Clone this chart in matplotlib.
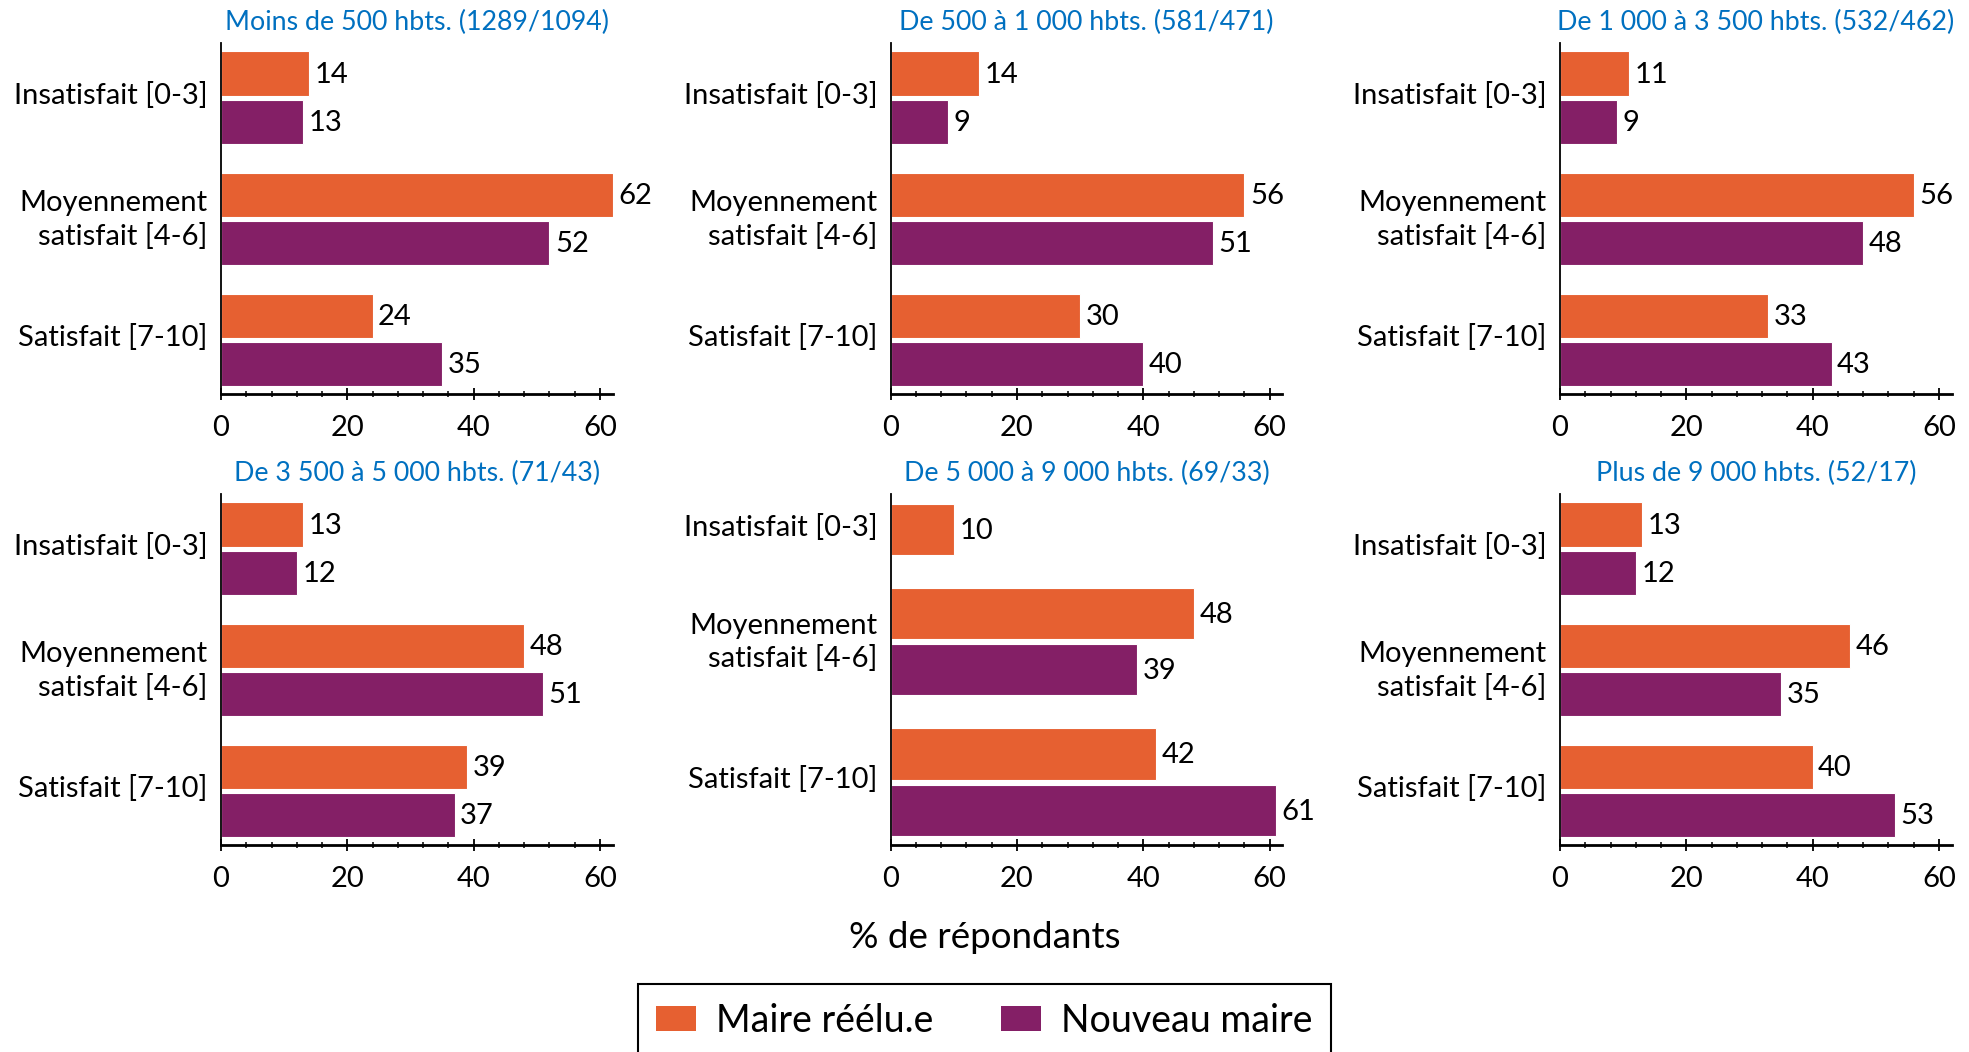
import matplotlib
matplotlib.use("agg")
import matplotlib.pyplot as plt
import matplotlib.transforms as mtransforms
from matplotlib.ticker import MultipleLocator
from matplotlib.patches import Patch

plt.rcParams['font.family'] = ['Lato', 'DejaVu Sans']

## Data
categories = ["Insatisfait [0-3]", "Moyennement\nsatisfait [4-6]", "Satisfait [7-10]"]
series_names = ["Maire réélu.e", "Nouveau maire"]
titles = [
    "Moins de 500 hbts. (1289/1094)",
    "De 500 à 1 000 hbts. (581/471)",
    "De 1 000 à 3 500 hbts. (532/462)",
    "De 3 500 à 5 000 hbts. (71/43)",
    "De 5 000 à 9 000 hbts. (69/33)",
    "Plus de 9 000 hbts. (52/17)",
]
reelu = [
    [14, 62, 24],
    [14, 56, 30],
    [11, 56, 33],
    [13, 48, 39],
    [10, 48, 42],
    [13, 46, 40],
]
nouveau = [
    [13, 52, 35],
    [9, 51, 40],
    [9, 48, 43],
    [12, 51, 37],
    [None, 39, 61],
    [12, 35, 53],
]

colors = ['#E66031', '#841F66']
title_color = '#0070C0'

W, H = 1969, 1052
fig = plt.figure(figsize=(W / 100, H / 100), dpi=100)

col_left = [221, 890.7, 1560]
row_top = [43.3, 494.3]
ax_w, ax_h = 391.5, 351

bar_h = 0.365
off = 0.2
fs = 21
# category labels: drawn by hand so they can sit a touch higher than matplotlib's ticks
cat_shift = mtransforms.ScaledTranslation(-9.5 / 72, 3.5 / 72, fig.dpi_scale_trans)

for k in range(6):
    r, c = divmod(k, 3)
    ax = fig.add_axes([col_left[c] / W, 1 - (row_top[r] + ax_h) / H, ax_w / W, ax_h / H])
    ypos = [0.0, 1.0, 2.0]
    top = -0.45
    # a category with only one series gets one centred bar
    if None in nouveau[k] or None in reelu[k]:
        ypos[0] = 0.2
        top = -0.05
    for i in range(3):
        vals = [reelu[k][i], nouveau[k][i]]
        present = [j for j in range(2) if vals[j] is not None]
        for j in present:
            y = ypos[i] if len(present) == 1 else ypos[i] + (-off if j == 0 else off)
            ax.barh(y, vals[j], height=bar_h, color=colors[j], edgecolor='white', linewidth=0.8)
            ax.annotate(str(vals[j]), (vals[j], y), xytext=(4, -1), textcoords='offset points',
                        ha='left', va='center', fontsize=fs, color='black')
        ax.text(0, ypos[i], categories[i], transform=ax.get_yaxis_transform() + cat_shift,
                ha='right', va='center_baseline', ma='right', fontsize=fs, linespacing=1.3)
    ax.set_xlim(0, 62)
    ax.set_ylim(2.45, top)
    ax.set_yticks([])
    ax.set_xticks([0, 20, 40, 60])
    ax.xaxis.set_minor_locator(MultipleLocator(4))
    ax.tick_params(axis='x', which='major', direction='inout', length=8, width=1.3,
                   labelsize=fs, pad=11)
    ax.tick_params(axis='x', which='minor', direction='inout', length=4.5, width=1.1)
    for s in ['top', 'right']:
        ax.spines[s].set_visible(False)
    ax.spines['bottom'].set_linewidth(2.0)
    ax.spines['left'].set_linewidth(1.3)
    ax.set_title(titles[k], color=title_color, fontsize=19.3, pad=9.6)

fig.text(0.5, 1 - 937 / H, "% de répondants", ha='center', va='center', fontsize=26.5)

handles = [Patch(facecolor=colors[0]), Patch(facecolor=colors[1])]
leg = fig.legend(handles, series_names, loc='upper center', bbox_to_anchor=(0.5, 1 - 984 / H),
                 borderaxespad=0, ncol=2, fontsize=27, frameon=True, fancybox=False,
                 framealpha=1, edgecolor='black', borderpad=0.5, handlelength=1.05,
                 handleheight=0.62, handletextpad=0.55, columnspacing=1.8)
leg.get_frame().set_linewidth(1.5)

fig.savefig('out.png', dpi=100)
